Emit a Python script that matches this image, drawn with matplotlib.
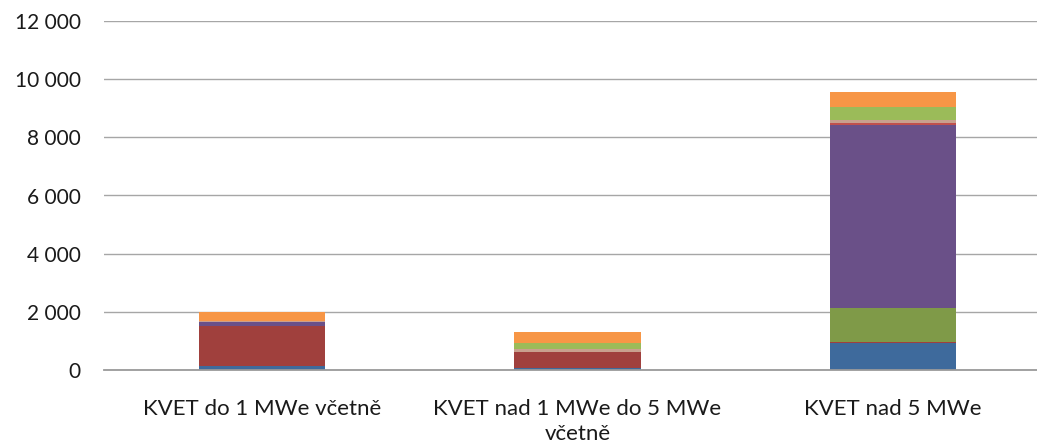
import matplotlib
matplotlib.use("Agg")
import matplotlib.pyplot as plt
import numpy as np

categories = ["KVET do 1 MWe včetně", "KVET nad 1 MWe do 5 MWe\nvčetně", "KVET nad 5 MWe"]

s1 = [150, 55, 930]
s2 = [1350, 570, 45]
s3 = [0, 0, 1150]
s4 = [150, 0, 6315]
s5 = [0, 0, 70]
s6 = [20, 80, 70]
s7 = [0, 240, 460]
s8 = [310, 365, 525]

series = [s1, s2, s3, s4, s5, s6, s7, s8]
colors = ["#3E6A9C", "#A0403D", "#7F9A48", "#6A5088", "#C0504D", "#C9A08E", "#9BBB59", "#F79646"]

yticks = [0, 2000, 4000, 6000, 8000, 10000, 12000]
ytick_labels = ["0", "2 000", "4 000", "6 000", "8 000", "10 000", "12 000"]

plt.rcParams['font.family'] = ['Lato', 'DejaVu Sans']

fig = plt.figure(figsize=(10.37, 4.48), dpi=100)
W, H = 1037, 448
left_px, right_px = 104.25, 1050.75
ax = fig.add_axes([left_px / W, (H - 370) / H, (right_px - left_px) / W, 349 / H])

x = np.arange(len(categories))
bottom = np.zeros(len(categories))
for vals, c in zip(series, colors):
    v = np.array(vals, dtype=float)
    ax.bar(x, v, width=0.4, bottom=bottom, color=c, zorder=3, linewidth=0)
    bottom += v

ax.set_xlim(-0.5, len(categories) - 0.5)
ax.set_ylim(0, 12000)
ax.set_yticks(yticks)
ax.set_yticklabels(ytick_labels)
ax.set_xticks(x)
ax.set_xticklabels(categories, linespacing=1.3)

ax.grid(axis='y', color='#A6A6A6', linewidth=1.0, zorder=0)
for s in ['top', 'right', 'left']:
    ax.spines[s].set_visible(False)
ax.spines['bottom'].set_color('#9A9A9A')
ax.spines['bottom'].set_linewidth(1.3)
ax.spines['bottom'].set_zorder(4)
ax.tick_params(axis='y', length=0, pad=17, labelsize=15, labelcolor='#1a1a1a')
ax.tick_params(axis='x', length=0, pad=21, labelsize=16, labelcolor='#1a1a1a')

fig.savefig("out.png", dpi=100)
